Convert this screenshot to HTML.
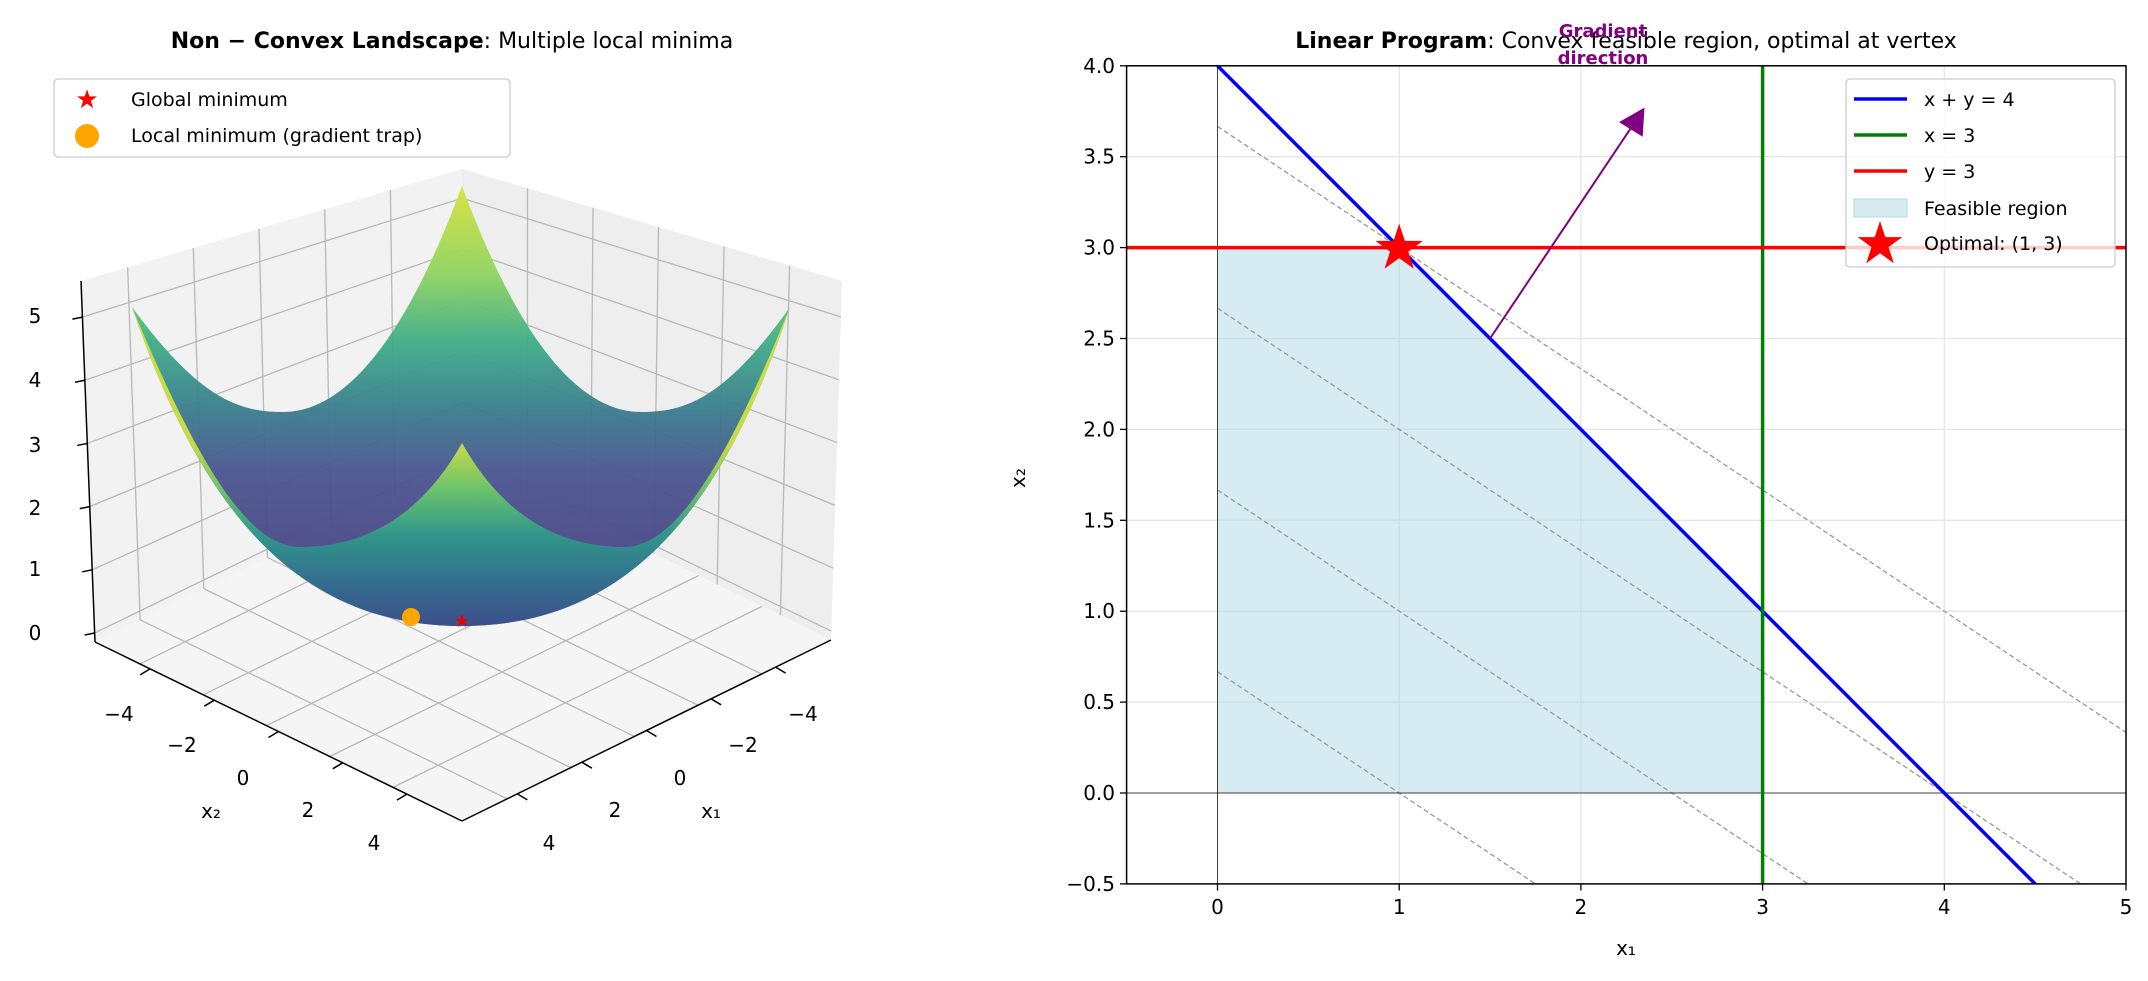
<!DOCTYPE html>
<html><head><meta charset="utf-8"><style>
html,body{margin:0;padding:0;background:#fff;width:2148px;height:981px;overflow:hidden;}
svg{display:block;font-family:"DejaVu Sans","Liberation Sans",sans-serif;}
</style></head><body>
<svg id="s" width="2148" height="981" viewBox="0 0 2148 981" xmlns="http://www.w3.org/2000/svg">
<defs>
<linearGradient id="bowl" x1="0" y1="186" x2="0" y2="626" gradientUnits="userSpaceOnUse">
<stop offset="0" stop-color="#d7e33a"/>
<stop offset="0.2" stop-color="#8fd460"/>
<stop offset="0.35" stop-color="#3fae88"/>
<stop offset="0.5" stop-color="#3a7f8e"/>
<stop offset="0.65" stop-color="#4b5590"/>
<stop offset="0.8" stop-color="#4a4a88"/>
<stop offset="1" stop-color="#3e4a89"/>
</linearGradient>
<linearGradient id="front" x1="0" y1="443" x2="0" y2="626" gradientUnits="userSpaceOnUse">
<stop offset="0" stop-color="#d0e040"/>
<stop offset="0.25" stop-color="#6cc96a"/>
<stop offset="0.5" stop-color="#2f9a8a"/>
<stop offset="0.75" stop-color="#33718e"/>
<stop offset="1" stop-color="#3c4f8a"/>
</linearGradient>
<clipPath id="ax"><rect x="1126.6" y="65.8" width="999.4" height="818.1"/></clipPath>
</defs>
<g id="g3d"></g>
<g id="g2d"></g>
</svg>
<script>
var NS="http://www.w3.org/2000/svg";
function el(p,t,a,txt){var e=document.createElementNS(NS,t);for(var k in a)e.setAttribute(k,a[k]);if(txt!=null)e.textContent=txt;p.appendChild(e);return e;}
function lerp(a,b,t){return [a[0]+(b[0]-a[0])*t,a[1]+(b[1]-a[1])*t];}
var g=document.getElementById('g3d');
var A=[81,281],TB=[462,169],BB=[464,461],BL=[95,642],TR=[842,281],BR=[831,640],F=[462,821];
el(g,'polygon',{points:[A,TB,BB,BL].join(' '),fill:'#f2f2f2'});
el(g,'polygon',{points:[TB,TR,BR,BB].join(' '),fill:'#eeeeee'});
el(g,'polygon',{points:[BL,BB,BR,F].join(' '),fill:'#f5f5f5'});
function line(p,q,c,w){el(g,'line',{x1:p[0],y1:p[1],x2:q[0],y2:q[1],stroke:c,'stroke-width':w});}
var gc='#b8b8b8';
for(var i=1;i<6;i++){var t=i/5.8-0.05;
 line(lerp(A,TB,t),lerp(BL,BB,t),gc,1.3);
 line(lerp(TB,TR,t+0.05),lerp(BB,BR,t+0.05),gc,1.3);}
for(var j=0;j<6;j++){var t=0.025+j*0.175;
 line(lerp(BL,A,t),lerp(BB,TB,t),gc,1.3);
 line(lerp(BB,TB,t),lerp(BR,TR,t),gc,1.3);}
for(var i=1;i<6;i++){var t=i/5.8-0.05;
 line(lerp(BL,F,t),lerp(BB,BR,t),gc,1.3);
 line(lerp(BL,BB,t),lerp(F,BR,t),gc,1.3);}
line(A,BL,'#000',1.5);line(BL,F,'#000',1.5);line(F,BR,'#000',1.5);
var zl=[633,569,508,445,380,316];
for(var j=0;j<6;j++){var p=lerp(BL,A,0.025+j*0.175);line(p,[p[0]-10,p[1]+2],'#000',1.5);
 el(g,'text',{x:35,y:zl[j]+7,'font-size':20,'text-anchor':'middle'},String(j));}
var x2=[[119,714,'−4'],[182,745,'−2'],[243,778,'0'],[308,810,'2'],[374,843,'4']];
var x1=[[803,714,'−4'],[743,745,'−2'],[680,778,'0'],[615,810,'2'],[549,843,'4']];
x2.forEach(function(a,i){var p=lerp(BL,F,0.15+i*0.175);line(p,[p[0]-10,p[1]+6],'#000',1.5);el(g,'text',{x:a[0],y:a[1]+7,'font-size':20,'text-anchor':'middle'},a[2]);});
x1.forEach(function(a,i){var p=lerp(BR,F,0.15+i*0.175);line(p,[p[0]+10,p[1]+6],'#000',1.5);el(g,'text',{x:a[0],y:a[1]+7,'font-size':20,'text-anchor':'middle'},a[2]);});
el(g,'text',{x:211,y:818,'font-size':20,'text-anchor':'middle'},'x₂');
el(g,'text',{x:711,y:818,'font-size':20,'text-anchor':'middle'},'x₁');
// surface
el(g,'path',{d:'M132,307 C200,400 240,412 283,412 C360,412 420,300 462,186 C504,300 564,412 641,412 C684,412 724,400 790,307 C720,520 620,626 462,626 C304,626 204,520 132,307 Z',fill:'url(#bowl)',opacity:0.95});
el(g,'path',{d:'M132,307 C200,470 250,547 300,547 C380,547 430,500 462,443 C494,500 544,547 624,547 C674,547 724,470 790,307 C720,520 620,626 462,626 C304,626 204,520 132,307 Z',fill:'url(#front)',opacity:0.95});
el(g,'circle',{cx:411,cy:617,r:9,fill:'#ffa500'});
el(g,'text',{x:462,y:627,'font-size':18,fill:'#e00','text-anchor':'middle'},'★');
var t=el(g,'text',{x:452,y:48,'font-size':22,'text-anchor':'middle'});
el(t,'tspan',{'font-weight':'bold'},'Non − Convex Landscape');el(t,'tspan',{},': Multiple local minima');
el(g,'rect',{x:54,y:79,width:456,height:78,rx:4,fill:'#fff',stroke:'#ccc','stroke-width':1.3});
el(g,'text',{x:87,y:108,'font-size':26,fill:'#f00','text-anchor':'middle'},'★');
el(g,'circle',{cx:87,cy:136,r:12,fill:'#ffa500'});
el(g,'text',{x:131,y:106,'font-size':19},'Global minimum');
el(g,'text',{x:131,y:142,'font-size':19},'Local minimum (gradient trap)');

var h=document.getElementById('g2d');
function X(x){return 1217.5+181.7*x;} function Y(y){return 793-181.8*y;}
function L(p,x1,y1,x2,y2,a){a=a||{};a.x1=X(x1);a.y1=Y(y1);a.x2=X(x2);a.y2=Y(y2);return el(p,'line',a);}
[0,1,2,3,4].forEach(function(x){L(h,x,-0.5,x,4,{stroke:'#e6e6e6','stroke-width':1.3});});
[-0.5,0,0.5,1,1.5,2,2.5,3,3.5,4].forEach(function(y){L(h,-0.5,y,5,y,{stroke:'#e6e6e6','stroke-width':1.3});});
var c=el(h,'g',{'clip-path':'url(#ax)'});
el(c,'polygon',{points:[X(0),Y(0),X(3),Y(0),X(3),Y(1),X(1),Y(3),X(0),Y(3)].join(' '),fill:'#add8e6','fill-opacity':0.5});
[11,8,5,2].forEach(function(k){L(c,0,k/3,6,(k-12)/3,{stroke:'#999','stroke-width':1.3,'stroke-dasharray':'5,3'});});
L(c,0,-1,0,5,{stroke:'#000','stroke-width':1,'stroke-opacity':0.7});
L(c,-1,0,6,0,{stroke:'#000','stroke-width':1,'stroke-opacity':0.7});
L(c,0,4,4.6,-0.6,{stroke:'#00f','stroke-width':3.5});
L(c,3,-1,3,5,{stroke:'#008000','stroke-width':3.5});
L(c,-1,3,6,3,{stroke:'#f00','stroke-width':3.5});
L(h,1.5,2.5,2.29,3.68,{stroke:'#800080','stroke-width':2});
el(h,'polygon',{points:[X(2.35),Y(3.77),X(2.34),Y(3.61),X(2.21),Y(3.69)].join(' '),fill:'#800080'});
el(h,'text',{x:X(1),y:Y(3)+21,'font-size':62,fill:'#f00','text-anchor':'middle'},'★');
el(h,'rect',{x:1126.6,y:65.8,width:999.4,height:818.1,fill:'none',stroke:'#000','stroke-width':1.5});
[-0.5,0,0.5,1,1.5,2,2.5,3,3.5,4].forEach(function(y){el(h,'line',{x1:1120,x2:1126.6,y1:Y(y),y2:Y(y),stroke:'#000','stroke-width':1.3});
 el(h,'text',{x:1115,y:Y(y)+7,'font-size':20,'text-anchor':'end'},(y<0?'−':'')+Math.abs(y).toFixed(1));});
[0,1,2,3,4,5].forEach(function(x){el(h,'line',{x1:X(x),x2:X(x),y1:883.9,y2:890.5,stroke:'#000','stroke-width':1.3});
 el(h,'text',{x:X(x),y:914,'font-size':20,'text-anchor':'middle'},String(x));});
el(h,'text',{x:1626,y:955,'font-size':20,'text-anchor':'middle'},'x₁');
el(h,'text',{x:1025,y:478,'font-size':20,'text-anchor':'middle',transform:'rotate(-90 1025 478)'},'x₂');
var tt=el(h,'text',{x:1626,y:48,'font-size':22,'text-anchor':'middle'});
el(tt,'tspan',{'font-weight':'bold'},'Linear Program');el(tt,'tspan',{},': Convex feasible region, optimal at vertex');
el(h,'text',{x:1603,y:37,'font-size':18,'font-weight':'bold',fill:'#800080','text-anchor':'middle'},'Gradient');
el(h,'text',{x:1603,y:64,'font-size':18,'font-weight':'bold',fill:'#800080','text-anchor':'middle'},'direction');
el(h,'rect',{x:1846,y:79,width:269,height:188,rx:4,fill:'#fff','fill-opacity':0.8,stroke:'#ccc','stroke-width':1.3});
var ly=[99,135,171,208,243],lab=['x + y = 4','x = 3','y = 3','Feasible region','Optimal: (1, 3)'],col=['#00f','#008000','#f00'];
for(var i=0;i<3;i++)el(h,'line',{x1:1854,x2:1907,y1:ly[i],y2:ly[i],stroke:col[i],'stroke-width':3.5});
el(h,'rect',{x:1854,y:ly[3]-9,width:53,height:18,fill:'#add8e6','fill-opacity':0.5,stroke:'#add8e6'});
el(h,'text',{x:1880,y:ly[4]+20,'font-size':58,fill:'#f00','text-anchor':'middle'},'★');
lab.forEach(function(s,i){el(h,'text',{x:1924,y:ly[i]+7,'font-size':19},s);});
</script>
</body></html>
